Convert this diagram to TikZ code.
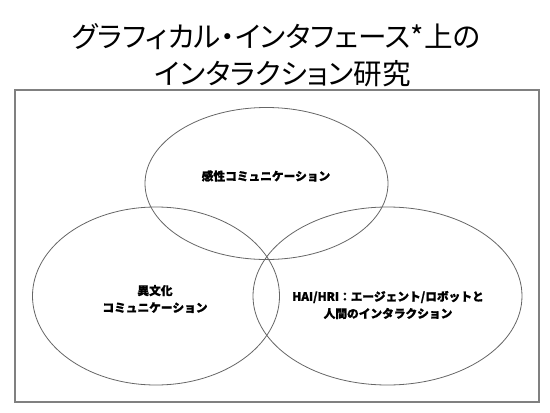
\documentclass[tikz,border=0pt]{standalone}
\usepackage{fontspec}
\newfontfamily\jp{Noto Sans CJK JP}[BoldFeatures={FakeBold=1.2}]
\newfontfamily\jpp{Noto Sans CJK JP}[RawFeature=+palt]
\begin{document}
\begin{tikzpicture}[x=1pt,y=-1pt,
  frame/.style={draw=black!50,line width=1.2pt},
  venn/.style={draw=black!60,line width=0.8pt},
  titletext/.style={inner sep=0pt,font=\jpp\fontsize{28.6}{32}\selectfont},
  label/.style={inner sep=0pt,align=center,font=\jp\bfseries\fontsize{11.7}{17}\selectfont}]
\useasboundingbox (0,0) rectangle (550,413);
\node[titletext] (t1) at (276,37) {グラフィカル・インタフェース*上の};
\node[titletext] (t2) at (283,74) {インタラクション研究};
\draw[frame] (15,90) rectangle (539,402);
\draw[venn] (266.5,183.5) ellipse [x radius=121.5, y radius=76];
\draw[venn] (156,296) ellipse [x radius=123.5, y radius=89];
\draw[venn] (387.5,296) ellipse [x radius=134.5, y radius=89];
\node[label] (a) at (266,176) {感性コミュニケーション};
\node[label] (b) at (155,299) {異文化\\コミュニケーション};
\node[label] (c) at (388,305) {HAI/HRI：エージェント/ロボットと\\人間のインタラクション};
\end{tikzpicture}
\end{document}
